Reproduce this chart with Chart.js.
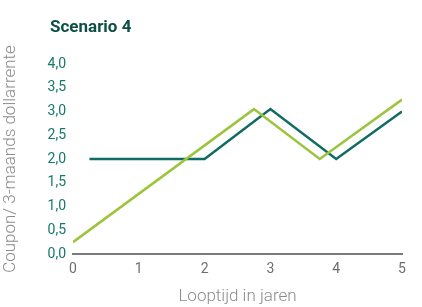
<!DOCTYPE html>
<html>
<head>
<meta charset="utf-8">
<script src="https://cdn.jsdelivr.net/npm/chart.js@4/dist/chart.umd.min.js"></script>
<style>
  html, body { margin: 0; padding: 0; background: #fff; }
  #wrap { position: relative; width: 422px; height: 307px; }
  #titel {
    position: absolute; left: 50px; top: 16px;
    font: bold 17px "Liberation Sans Narrow", "Roboto", sans-serif;
    color: #0d4f44;
  }
</style>
</head>
<body>
<div id="wrap">
  <div id="titel">Scenario 4</div>
  <canvas id="grafica" width="422" height="307"></canvas>
</div>
<script>
// looptijd (jaren) en coupon per reeks
const looptijdDonker = [0.25, 0.5, 0.75, 1, 1.25, 1.5, 1.75, 2, 3, 4, 5];
const couponDonker   = [2.0, 2.0, 2.0, 2.0, 2.0, 2.0, 2.0, 2.0, 3.05, 2.0, 3.0];
const looptijdLicht  = [0, 2.75, 3.75, 5];
const couponLicht    = [0.25, 3.05, 2.0, 3.25];
const xTicks = [0, 1, 2, 3, 4, 5];
const yTicks = [0, 0.5, 1, 1.5, 2, 2.5, 3, 3.5, 4];

const punten = (xs, ys) => xs.map((x, i) => ({ x: x, y: ys[i] }));

const smal = '"Liberation Sans Narrow", "Roboto", sans-serif';

const ctx = document.getElementById("grafica").getContext("2d");
new Chart(ctx, {
  type: "line",
  data: {
    datasets: [
      {
        data: punten(looptijdLicht, couponLicht),
        borderColor: "#9cc43c",
        borderWidth: 2.5,
        pointRadius: 0,
        tension: 0
      },
      {
        data: punten(looptijdDonker, couponDonker),
        borderColor: "#0e6c62",
        borderWidth: 2.5,
        pointRadius: 0,
        tension: 0
      }
    ]
  },
  options: {
    responsive: false,
    animation: false,
    layout: { padding: { left: 0, right: 20, top: 64, bottom: 0 } },
    plugins: {
      legend: { display: false },
      tooltip: { enabled: false }
    },
    scales: {
      x: {
        type: "linear",
        min: 0,
        max: 5,
        afterBuildTicks: s => { s.ticks = xTicks.map(v => ({ value: v })); },
        afterFit: s => { s.height = 53; },
        grid: { display: false, drawTicks: false },
        border: { display: true, color: "#7a7a7a", width: 2 },
        ticks: {
          color: "#6e6e6e",
          padding: 7,
          font: { family: smal, size: 14 },
          callback: v => String(v)
        },
        title: {
          display: true,
          text: "Looptijd in jaren",
          color: "#8c8c8c",
          font: { family: "Roboto", size: 17, weight: 300 },
          padding: { top: 0, bottom: 0 }
        }
      },
      y: {
        min: 0,
        max: 4,
        afterBuildTicks: s => { s.ticks = yTicks.map(v => ({ value: v })); },
        afterFit: s => { s.width = 73; },
        grid: { display: false, drawTicks: false },
        border: { display: false },
        ticks: {
          color: "#17786d",
          padding: 7,
          font: { family: smal, size: 14 },
          callback: v => v.toFixed(1).replace(".", ",")
        },
        title: {
          display: true,
          text: "Coupon/ 3-maands dollarrente",
          color: "#8c8c8c",
          font: { family: "Roboto", size: 17, weight: 300 },
          padding: { top: 1, bottom: 0 }
        }
      }
    }
  }
});
</script>
</body>
</html>
